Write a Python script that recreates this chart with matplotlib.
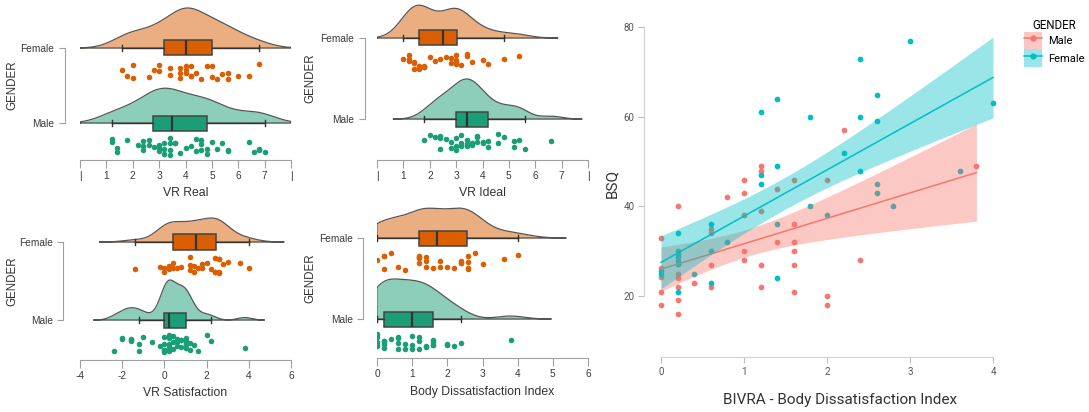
import numpy as np
import matplotlib
matplotlib.use('Agg')
import matplotlib.pyplot as plt
from matplotlib.patches import Patch
from matplotlib.lines import Line2D

plt.rcParams['font.family'] = ['Liberation Sans', 'DejaVu Sans']
plt.rcParams['axes.unicode_minus'] = False

# raincloud data
real_female = [1.6, 1.8, 2.0, 2.0, 2.6, 2.8, 3.0, 3.0, 3.4, 3.4, 3.8, 3.8, 3.8, 4.0, 4.0, 4.0,
               4.2, 4.2, 4.2, 4.4, 4.6, 4.8, 5.0, 5.0, 5.2, 5.4, 5.6, 5.6, 6.0, 6.4, 6.8]
real_male = [1.2, 1.2, 1.4, 1.4, 1.8, 2.2, 2.4, 2.4, 2.4, 2.6, 2.6, 2.8, 3.0, 3.0, 3.0, 3.2, 3.2,
             3.2, 3.4, 3.4, 3.4, 3.4, 3.6, 3.6, 3.8, 4.0, 4.2, 4.4, 4.4, 4.6, 4.6, 4.6, 4.8, 4.8,
             5.0, 5.2, 5.4, 5.6, 5.6, 6.4, 6.6, 6.8, 6.8, 7.0]
ideal_female = [1.0, 1.2, 1.2, 1.2, 1.4, 1.4, 1.4, 1.6, 1.6, 1.6, 1.8, 1.8, 1.8, 2.0, 2.2, 2.4,
                2.6, 2.8, 2.8, 3.0, 3.0, 3.0, 3.0, 3.0, 3.2, 3.4, 3.4, 3.6, 4.0, 4.2, 4.8, 5.4]
ideal_male = [1.8, 2.0, 2.2, 2.4, 2.4, 2.4, 2.6, 2.8, 2.8, 3.0, 3.0, 3.0, 3.2, 3.2, 3.2, 3.4,
              3.4, 3.4, 3.4, 3.6, 3.6, 3.6, 3.8, 3.8, 3.8, 4.0, 4.0, 4.2, 4.2, 4.6, 4.6, 4.8,
              5.2, 5.2, 5.4, 5.6, 6.6]
sat_female = [-1.4, -0.2, 0.0, 0.0, 0.2, 0.2, 0.2, 0.4, 0.4, 0.6, 0.8, 1.2, 1.2, 1.2, 1.4, 1.4,
              1.6, 1.8, 1.8, 2.0, 2.2, 2.4, 2.4, 2.4, 2.6, 2.6, 2.6, 2.6, 2.8, 3.0, 3.6, 4.0]
sat_male = [-2.4, -2.0, -2.0, -1.6, -1.6, -1.6, -1.2, -1.2, -1.0, -0.6, -0.2, 0.0, 0.0, 0.0,
            0.0, 0.0, 0.2, 0.2, 0.2, 0.2, 0.2, 0.2, 0.2, 0.4, 0.4, 0.4, 0.6, 0.6, 0.6, 0.8, 0.8,
            0.8, 1.0, 1.0, 1.0, 1.0, 1.0, 1.0, 1.2, 1.2, 1.4, 1.6, 2.0, 2.2, 3.8]
bdi_female = [0.0, 0.2, 0.2, 0.2, 0.4, 0.6, 0.8, 1.2, 1.2, 1.2, 1.2, 1.4, 1.4, 1.4, 1.6, 1.8,
              1.8, 2.0, 2.2, 2.4, 2.4, 2.4, 2.6, 2.6, 2.6, 2.6, 2.8, 3.0, 3.6, 4.0]
bdi_male = [0.0, 0.0, 0.0, 0.0, 0.0, 0.2, 0.2, 0.2, 0.2, 0.4, 0.6, 0.6, 0.6, 0.6, 0.8, 0.8,
            1.0, 1.0, 1.0, 1.2, 1.2, 1.2, 1.4, 1.4, 1.6, 1.6, 1.6, 1.6, 2.0, 2.0, 2.2, 2.4, 3.8]

# scatter: BIVRA body dissatisfaction index vs BSQ
sc_male_x = [0, 0, 0, 0, 0, 0.2, 0.2, 0.2, 0.2, 0.2, 0.2, 0.4, 0.6, 0.6, 0.6, 0.6, 0.8,
             1.0, 1.0, 1.0, 1.0, 1.0, 1.2, 1.2, 1.2, 1.2, 1.2, 1.4, 1.4, 1.6, 1.6, 1.6, 1.6,
             1.6, 1.6, 2.0, 2.0, 2.0, 2.2, 2.4, 3.8]
sc_male_y = [33, 26.2, 24.2, 21, 18, 40, 25, 24, 22, 19, 16, 23, 35, 34, 27, 22, 42,
             46, 43, 38, 30, 28, 49, 48, 39, 27, 22, 44, 32, 46, 36, 32, 30, 27, 21, 46, 20, 18,
             57, 28, 49]
sc_fem_x = [0, 0, 0.2, 0.2, 0.2, 0.2, 0.2, 0.2, 0.2, 0.4, 0.6, 0.6, 0.6, 0.8, 1.2, 1.2, 1.2,
            1.4, 1.4, 1.4, 1.4, 1.8, 1.8, 2.0, 2.2, 2.4, 2.4, 2.4, 2.6, 2.6, 2.6, 2.6, 2.8, 3.0,
            3.6, 4.0]
sc_fem_y = [25.6, 24.9, 34, 30, 29.4, 28.6, 27.9, 27.1, 21, 25, 36, 30, 23, 32, 61, 47, 45,
            64, 49, 36, 24, 60, 40, 38, 52, 73, 60, 48, 65, 59, 45, 43, 40, 77, 48, 63]

W, H = 1089, 412
fig = plt.figure(figsize=(W / 100, H / 100), dpi=100)

FEM_C, MALE_C = '#D95F02', '#1B9E77'
SC_MALE, SC_FEM = '#F8766D', '#00BFC4'
rng = np.random.default_rng(3)


def add_px_axes(x0, y0, x1, y1):
    return fig.add_axes([x0 / W, 1 - y1 / H, (x1 - x0) / W, (y1 - y0) / H])


def kde(vals, lo, hi):
    v = np.asarray(vals, float)
    n = len(v)
    q75, q25 = np.percentile(v, [75, 25])
    bw = 0.9 * min(v.std(ddof=1), (q75 - q25) / 1.34) * n ** -0.2
    g = np.linspace(max(lo, v.min() - 3 * bw), min(hi, v.max() + 3 * bw), 400)
    d = np.exp(-0.5 * ((g[:, None] - v[None, :]) / bw) ** 2).sum(1) / (n * bw * np.sqrt(2 * np.pi))
    return g, d


def raincloud(x0, x1, fem_px, male_px, axis_px, spine_px, gender_x, xlim, ticks, ticklabels,
              xlabel, label_px, female, male):
    ax = add_px_axes(x0, 2, x1, axis_px)
    ax.patch.set_alpha(0)
    unit = male_px - fem_px
    ax.set_xlim(xlim)
    ax.set_ylim(-(axis_px - male_px) / unit, (male_px - 2) / unit)

    curves = [kde(v, *xlim) for v in (male, female)]
    scale = (40 / unit) / max(d.max() for _, d in curves)
    for base, (g, d), col in zip((0, 1), curves, (MALE_C, FEM_C)):
        top = base + d * scale
        ax.fill_between(g, base, top, color=col, alpha=0.5, lw=0, zorder=1)
        ax.plot(np.r_[g[0], g, g[-1], g[0]], np.r_[base, top, base, base],
                color='#555555', lw=0.9, zorder=1.5)

    bp = ax.boxplot([male, female], positions=[0, 1], orientation='horizontal',
                    widths=15 / unit, showfliers=False, patch_artist=True,
                    capwidths=6 / unit, zorder=3,
                    medianprops=dict(color='#333333', lw=1.6),
                    whiskerprops=dict(color='#333333', lw=1),
                    capprops=dict(color='#333333', lw=1),
                    boxprops=dict(edgecolor='#444444', lw=1.1))
    for patch, col in zip(bp['boxes'], (MALE_C, FEM_C)):
        patch.set_facecolor(col)

    for base, vals, col in ((0, male, MALE_C), (1, female, FEM_C)):
        jit = rng.uniform(15, 32, len(vals)) / unit
        ax.scatter(vals, base - jit, s=16, color=col, lw=0, zorder=4)

    for s in ('top', 'right'):
        ax.spines[s].set_visible(False)
    ax.spines['left'].set_position(('outward', x0 - spine_px))
    ax.spines['left'].set_bounds(0, 1)
    ax.spines['bottom'].set_bounds(*xlim)
    for s in ('left', 'bottom'):
        ax.spines[s].set_color('#a0a0a0')
    ax.set_yticks([0, 1], ['Male', 'Female'])
    ax.set_xticks(ticks, ticklabels)
    ax.tick_params(colors='#a0a0a0', labelcolor='#3a3a3a', labelsize=7.3, length=4)
    ax.tick_params(axis='x', length=6, pad=2)
    fig.text((x0 + x1) / 2 / W, 1 - label_px / H, xlabel, ha='center', va='center',
             fontsize=8.8, color='#333333')
    fig.text(gender_x / W, 1 - (fem_px + male_px) / 2 / H, 'GENDER', rotation=90,
             ha='center', va='center', fontsize=8.3, color='#333333')


vr_ticks = list(range(9))
vr_labels = ['|'] + [str(i) for i in range(1, 8)] + ['|']
raincloud(80, 291, 48, 123, 160, 69, 12, (0, 8), vr_ticks, vr_labels, 'VR Real', 193,
          real_female, real_male)
raincloud(377, 588, 38, 119, 160, 368, 310, (0, 8), vr_ticks, vr_labels, 'VR Ideal', 193,
          ideal_female, ideal_male)
raincloud(80, 291, 242, 320, 360, 68, 12, (-4, 6), list(range(-4, 7, 2)),
          [str(t) for t in range(-4, 7, 2)], 'VR Satisfaction', 393, sat_female, sat_male)
raincloud(377, 588, 238, 319, 358, 367, 310, (0, 6), list(range(7)),
          [str(t) for t in range(7)], 'Body Dissatisfaction Index', 392, bdi_female, bdi_male)


def fit_band(x, y):
    x = np.asarray(x, float)
    y = np.asarray(y, float)
    b, a = np.polyfit(x, y, 1)
    xs = np.linspace(x.min(), x.max(), 100)
    n = len(x)
    s = np.sqrt(((y - (a + b * x)) ** 2).sum() / (n - 2))
    se = s * np.sqrt(1 / n + (xs - x.mean()) ** 2 / ((x - x.mean()) ** 2).sum())
    return xs, a + b * xs, 2.02 * se


ax = add_px_axes(644, 9, 1036, 357)
ax.set_xlim(-0.205, 4.518)
ax.set_ylim(6.37, 84.1)
ax.scatter(sc_male_x, sc_male_y, s=17, color=SC_MALE, lw=0, zorder=1)
ax.scatter(sc_fem_x, sc_fem_y, s=17, color=SC_FEM, lw=0, zorder=1)
z = 2
for xv, yv, col in ((sc_male_x, sc_male_y, SC_MALE), (sc_fem_x, sc_fem_y, SC_FEM)):
    xs, fit, ci = fit_band(xv, yv)
    ax.fill_between(xs, fit - ci, fit + ci, color=col, alpha=0.4, lw=0, zorder=z)
    ax.plot(xs, fit, color=col, lw=1.1, zorder=z + 0.5)
    z += 1

for s in ('top', 'right'):
    ax.spines[s].set_visible(False)
ax.spines['left'].set_bounds(20, 80)
ax.spines['bottom'].set_bounds(0, 4)
for s in ('left', 'bottom'):
    ax.spines[s].set_color('#d0d0d0')
ax.set_xticks([0, 1, 2, 3, 4])
ax.set_yticks([20, 40, 60, 80])
ax.tick_params(colors='#c0c0c0', labelcolor='#555555', labelsize=7, length=4, pad=3)
for lbl in ax.get_xticklabels() + ax.get_yticklabels():
    lbl.set_family('Roboto')

fig.text(612 / W, 1 - 183 / H, 'BSQ', rotation=90, ha='center', va='center',
         fontsize=11, family='Roboto', color='#333333')
fig.text(840 / W, 1 - 400 / H, 'BIVRA - Body Dissatisfaction Index', ha='center',
         va='center', fontsize=11, family='Roboto', color='#333333')

handles = [(Patch(facecolor=SC_MALE, alpha=0.4, lw=0),
            Line2D([], [], color=SC_MALE, marker='o', ms=3.5, lw=1.1)),
           (Patch(facecolor=SC_FEM, alpha=0.4, lw=0),
            Line2D([], [], color=SC_FEM, marker='o', ms=3.5, lw=1.1))]
fig.legend(handles, ['Male', 'Female'], title='GENDER', loc='upper left',
           bbox_to_anchor=(1018 / W, 1 - 13 / H), frameon=False, handlelength=1.7,
           handleheight=2.1, labelspacing=0, handletextpad=0.5, borderpad=0,
           prop={'family': 'Roboto', 'size': 8},
           title_fontproperties={'family': 'Roboto', 'size': 8.3})

fig.savefig('out.png', dpi=100)
